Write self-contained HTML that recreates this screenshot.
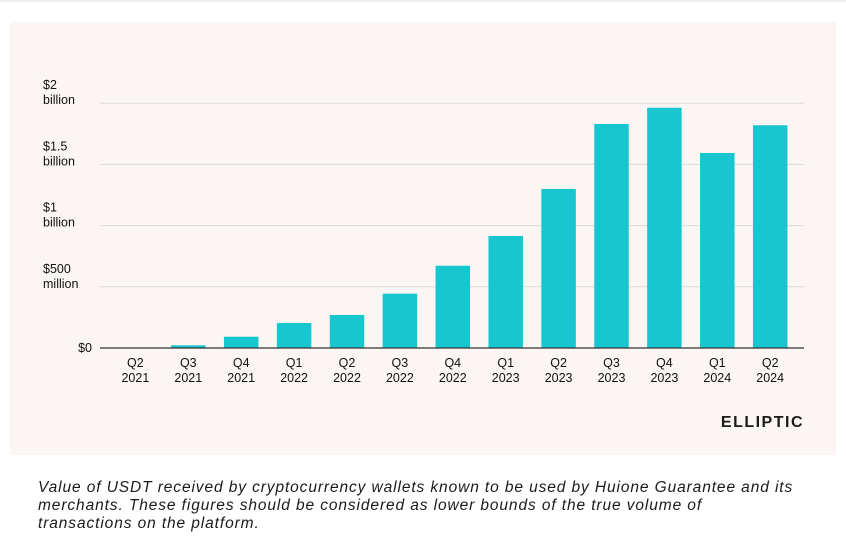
<!DOCTYPE html>
<html><head><meta charset="utf-8"><style>
body{margin:0;width:846px;height:555px;background:#fff;font-family:"Liberation Sans",sans-serif;overflow:hidden;position:relative}
#panel{position:absolute;left:10px;top:22px;width:826px;height:433px;background:#fbf6f3}
#cap{position:absolute;left:38px;top:479px;width:800px;white-space:nowrap;font-size:15.5px;letter-spacing:0.9px;font-style:italic;line-height:18px;color:#1a1a1a}
#topline{position:absolute;left:0;top:0;width:846px;height:2px;background:#eee}
</style></head><body>
<div id="topline"></div>
<div id="panel"></div>
<svg id="chart" width="846" height="555" style="position:absolute;left:0;top:0" font-family="Liberation Sans, sans-serif"></svg>
<div id="cap">Value of USDT received by cryptocurrency wallets known to be used by Huione Guarantee and its<br>merchants. These figures should be considered as lower bounds of the true volume of<br>transactions on the platform.</div>
<script>
const quarters=["Q2","Q3","Q4","Q1","Q2","Q3","Q4","Q1","Q2","Q3","Q4","Q1","Q2"];
const years=["2021","2021","2021","2022","2022","2022","2022","2023","2023","2023","2023","2024","2024"];
const values=[0.002,0.022,0.092,0.204,0.27,0.444,0.672,0.915,1.30,1.83,1.963,1.593,1.82];
const ticks=[0,0.5,1,1.5,2];
const tickLine1=["$0","$500","$1","$1.5","$2"];
const tickLine2=["","million","billion","billion","billion"];
const NS="http://www.w3.org/2000/svg";
const svg=document.getElementById('chart');
const y0=348,pxPer=122.4,x0=135.4,step=52.9,bw=34.5;
const yScale=v=>y0-v*pxPer;
const xScale=i=>x0+i*step;
function mk(t,a){const e=document.createElementNS(NS,t);for(const k in a)e.setAttribute(k,a[k]);svg.appendChild(e);return e;}
ticks.forEach((t,i)=>{
  const y=yScale(t);
  if(t>0){const g=mk('line',{x1:100,x2:804,y1:y,y2:y,stroke:'#dcdada','stroke-width':1});
  
  }
  if(t===0){const l=mk('text',{x:92,y:y+4,'font-size':12.5,'text-anchor':'end',fill:'#111'});l.textContent=tickLine1[i];
  
  }
  else{const l=mk('text',{x:43,y:y-14,'font-size':12.5,fill:'#111'});l.textContent=tickLine1[i];
  
  
  const l2=mk('text',{x:43,y:y+1,'font-size':12.5,fill:'#111'});l2.textContent=tickLine2[i];
  
  }
});
values.forEach((v,i)=>{
  const cx=xScale(i),top=yScale(v);
  const r=mk('rect',{x:cx-bw/2,y:top,width:bw,height:y0-top,fill:'#17c6cf'});
  
  
  const a=mk('text',{x:cx,y:367,'font-size':12.5,'text-anchor':'middle',fill:'#111'});a.textContent=quarters[i];
  
  
  const b=mk('text',{x:cx,y:382,'font-size':12.5,'text-anchor':'middle',fill:'#111'});b.textContent=years[i];
  
  
});
const ax=mk('line',{x1:100,x2:804,y1:y0,y2:y0,stroke:'#333','stroke-width':1.3});


const logo=mk('text',{x:804,y:427,'font-size':16,'font-weight':'bold','text-anchor':'end',fill:'#1a1a1a','letter-spacing':'1.5'});
logo.textContent='ELLIPTIC';


</script>
</body></html>
